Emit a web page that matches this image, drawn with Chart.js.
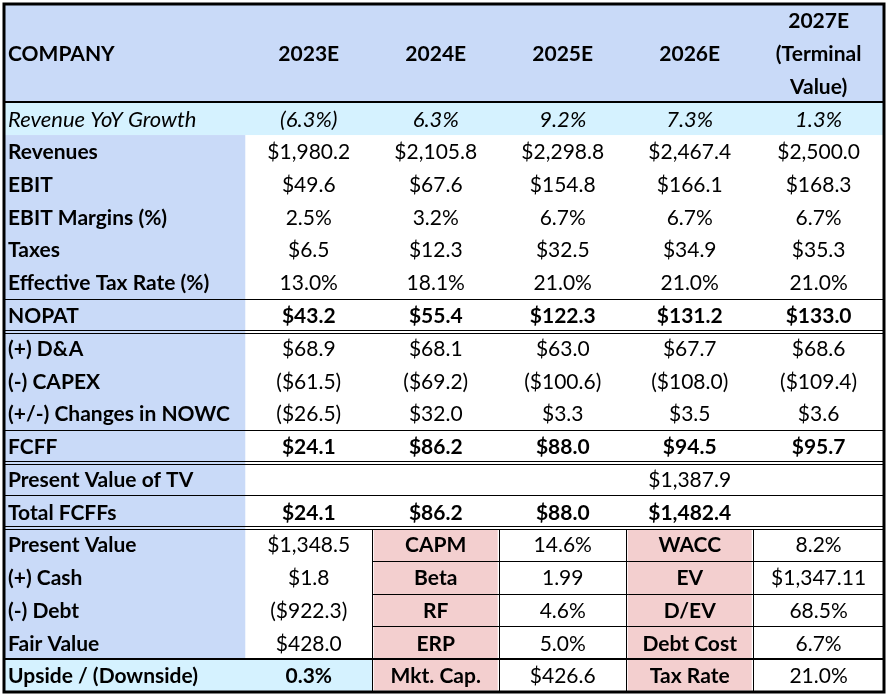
<!DOCTYPE html>
<html>
<head>
<meta charset="utf-8">
<script src="https://cdn.jsdelivr.net/npm/chart.js@4.4.0/dist/chart.umd.min.js"></script>
<style>
  html, body { margin: 0; padding: 0; background: #fff; }
  #wrap { width: 889px; height: 697px; }
</style>
</head>
<body>
<div id="wrap"><canvas id="chart" width="889" height="697"></canvas></div>
<script>
// header
const yearCols = ["2023E", "2024E", "2025E", "2026E"];
const terminalHeader = ["2027E", "(Terminal", "Value)"];

// projection rows (2023E .. 2027E)
const revenueGrowth = [-6.3, 6.3, 9.2, 7.3, 1.3];
const revenues = [1980.2, 2105.8, 2298.8, 2467.4, 2500.0];
const ebit = [49.6, 67.6, 154.8, 166.1, 168.3];
const ebitMargin = [2.5, 3.2, 6.7, 6.7, 6.7];
const taxes = [6.5, 12.3, 32.5, 34.9, 35.3];
const taxRate = [13.0, 18.1, 21.0, 21.0, 21.0];
const nopat = [43.2, 55.4, 122.3, 131.2, 133.0];
const dna = [68.9, 68.1, 63.0, 67.7, 68.6];
const capex = [-61.5, -69.2, -100.6, -108.0, -109.4];
const nowc = [-26.5, 32.0, 3.3, 3.5, 3.6];
const fcff = [24.1, 86.2, 88.0, 94.5, 95.7];
const pvTerminal = [null, null, null, 1387.9, null];
const totalFcff = [24.1, 86.2, 88.0, 1482.4, null];

// valuation block
const valuationLabels = ["Present Value", "(+) Cash", "(-) Debt", "Fair Value", "Upside / (Downside)"];
const valuationValues = [1348.5, 1.8, -922.3, 428.0, 0.3];
const capmLabels = ["CAPM", "Beta", "RF", "ERP", "Mkt. Cap."];
const capmValues = [14.6, 1.99, 4.6, 5.0, 426.6];
const waccLabels = ["WACC", "EV", "D/EV", "Debt Cost", "Tax Rate"];
const waccValues = [8.2, 1347.11, 68.5, 6.7, 21.0];

function num(v, d) {
  return Math.abs(v).toLocaleString("en-US", { minimumFractionDigits: d, maximumFractionDigits: d });
}
function money(v, d = 1) {
  if (v === null) return "";
  return v < 0 ? "($" + num(v, d) + ")" : "$" + num(v, d);
}
function pct(v) {
  if (v === null) return "";
  return v < 0 ? "(" + num(v, 1) + "%)" : num(v, 1) + "%";
}

const rows = [
  { label: "Revenue YoY Growth", values: revenueGrowth, fmt: pct, italic: true },
  { label: "Revenues", values: revenues, fmt: money },
  { label: "EBIT", values: ebit, fmt: money },
  { label: "EBIT Margins (%)", values: ebitMargin, fmt: pct },
  { label: "Taxes", values: taxes, fmt: money },
  { label: "Effective Tax Rate (%)", values: taxRate, fmt: pct },
  { label: "NOPAT", values: nopat, fmt: money, bold: true },
  { label: "(+) D&A", values: dna, fmt: money },
  { label: "(-) CAPEX", values: capex, fmt: money },
  { label: "(+/-) Changes in NOWC", values: nowc, fmt: money },
  { label: "FCFF", values: fcff, fmt: money, bold: true },
  { label: "Present Value of TV", values: pvTerminal, fmt: money },
  { label: "Total FCFFs", values: totalFcff, fmt: money, bold: true },
];

const capmFmt = [pct, (v) => v.toFixed(2), pct, pct, money];
const waccFmt = [pct, (v) => money(v, 2), pct, pct, pct];

const FONT = "Lato";
const SIZE = 21;
const ITALIC_SIZE = 22;
const BLUE = "#c9daf8";
const CYAN = "#d5f2ff";
const PINK = "#f3cfcf";

const colWidths = [1.9, 1, 1, 1, 1, 1.03];
const colEdges = [0];
colWidths.forEach((w) => colEdges.push(colEdges[colEdges.length - 1] + w));
const HEADER = 3;
const totalRows = HEADER + rows.length + valuationLabels.length;

const tablePlugin = {
  id: "table",
  afterDraw(chart) {
    const { ctx } = chart;
    const sx = chart.scales.x, sy = chart.scales.y;
    const X = (u) => sx.getPixelForValue(u);
    const Y = (u) => sy.getPixelForValue(u);
    const last = colEdges.length - 1;
    const bodyTop = HEADER;
    const valTop = HEADER + rows.length;
    const upRow = totalRows - 1;

    function fill(c0, c1, r0, r1, color, inset = 0) {
      ctx.fillStyle = color;
      const x0 = X(colEdges[c0]) + inset, x1 = X(colEdges[c1]) - inset;
      const y0 = Y(r0) + inset, y1 = Y(r1) - inset;
      ctx.fillRect(x0, y0, x1 - x0, y1 - y0);
    }
    function hline(r, c0, c1, w = 1) {
      const y = Math.round(Y(r)) + (w % 2 ? 0.5 : 0);
      ctx.lineWidth = w;
      ctx.beginPath();
      ctx.moveTo(X(colEdges[c0]), y);
      ctx.lineTo(X(colEdges[c1]), y);
      ctx.stroke();
    }
    function dline(r, c0, c1) {
      const y = Math.round(Y(r));
      ctx.lineWidth = 1;
      [y - 1.5, y + 1.5].forEach((yy) => {
        ctx.beginPath();
        ctx.moveTo(X(colEdges[c0]), yy);
        ctx.lineTo(X(colEdges[c1]), yy);
        ctx.stroke();
      });
    }
    function vline(c, r0, r1) {
      const x = Math.round(X(colEdges[c])) + 0.5;
      ctx.lineWidth = 1;
      ctx.beginPath();
      ctx.moveTo(x, Y(r0));
      ctx.lineTo(x, Y(r1));
      ctx.stroke();
    }
    function text(str, c, r, opts = {}) {
      if (!str) return;
      const style = (opts.italic ? "italic " : "") + (opts.bold ? "bold " : "");
      ctx.font = style + (opts.italic ? ITALIC_SIZE : SIZE) + "px " + FONT;
      ctx.fillStyle = "#000";
      ctx.textBaseline = "middle";
      const cy = Y(r + 0.5) + 1;
      if (opts.left) {
        ctx.textAlign = "left";
        ctx.fillText(str, X(colEdges[c]) + 4, cy);
      } else {
        ctx.textAlign = "center";
        ctx.fillText(str, (X(colEdges[c]) + X(colEdges[c + 1])) / 2, cy);
      }
    }

    ctx.save();
    // fills
    fill(0, last, 0, HEADER, BLUE);
    fill(0, last, bodyTop, bodyTop + 1, CYAN);
    fill(0, 1, bodyTop + 1, upRow, BLUE);
    fill(0, 2, upRow, upRow + 1, CYAN);
    fill(2, 3, valTop, totalRows, PINK, 1.5);
    fill(4, 5, valTop, totalRows, PINK, 1.5);

    // grid lines
    ctx.strokeStyle = "#000";
    hline(HEADER, 0, last, 2);
    hline(bodyTop + 6, 0, last);
    dline(bodyTop + 7, 0, last);
    hline(bodyTop + 10, 0, last);
    dline(bodyTop + 11, 0, last);
    hline(bodyTop + 12, 0, last);
    dline(valTop, 0, last);
    for (let r = valTop + 1; r < upRow; r++) hline(r, 2, last);
    hline(upRow, 0, last, 2);
    for (let c = 2; c <= 5; c++) vline(c, valTop + 0.05, totalRows);

    // outer border
    ctx.lineWidth = 3;
    ctx.strokeRect(X(0), Y(0), X(colEdges[last]) - X(0), Y(totalRows) - Y(0));

    // header text
    text("COMPANY", 0, 1, { bold: true, left: true });
    yearCols.forEach((y, i) => text(y, i + 1, 1, { bold: true }));
    terminalHeader.forEach((t, i) => text(t, 5, i, { bold: true }));

    // projection rows
    rows.forEach((row, i) => {
      const r = bodyTop + i;
      text(row.label, 0, r, { bold: !row.italic, italic: row.italic, left: true });
      row.values.forEach((v, j) => text(row.fmt(v), j + 1, r, { bold: row.bold, italic: row.italic }));
    });

    // valuation block
    valuationLabels.forEach((lab, i) => {
      const r = valTop + i;
      const isUp = i === valuationLabels.length - 1;
      text(lab, 0, r, { bold: true, left: true });
      text(isUp ? pct(valuationValues[i]) : money(valuationValues[i]), 1, r, { bold: isUp });
      text(capmLabels[i], 2, r, { bold: true });
      text(capmFmt[i](capmValues[i]), 3, r);
      text(waccLabels[i], 4, r, { bold: true });
      text(waccFmt[i](waccValues[i]), 5, r);
    });
    ctx.restore();
  },
};

Promise.all([
  document.fonts.load("21px Lato"),
  document.fonts.load("bold 21px Lato"),
  document.fonts.load("italic 22px Lato"),
]).catch(() => {}).then(() => {
  new Chart(document.getElementById("chart").getContext("2d"), {
    type: "scatter",
    data: { datasets: [{ data: [] }] },
    options: {
      responsive: false,
      animation: false,
      layout: { padding: { left: 4, top: 4, right: 5, bottom: 5 } },
      scales: {
        x: { type: "linear", min: 0, max: colEdges[colEdges.length - 1], display: false },
        y: { type: "linear", min: 0, max: totalRows, reverse: true, display: false },
      },
      plugins: { legend: { display: false }, tooltip: { enabled: false } },
    },
    plugins: [tablePlugin],
  });
});
</script>
</body>
</html>
